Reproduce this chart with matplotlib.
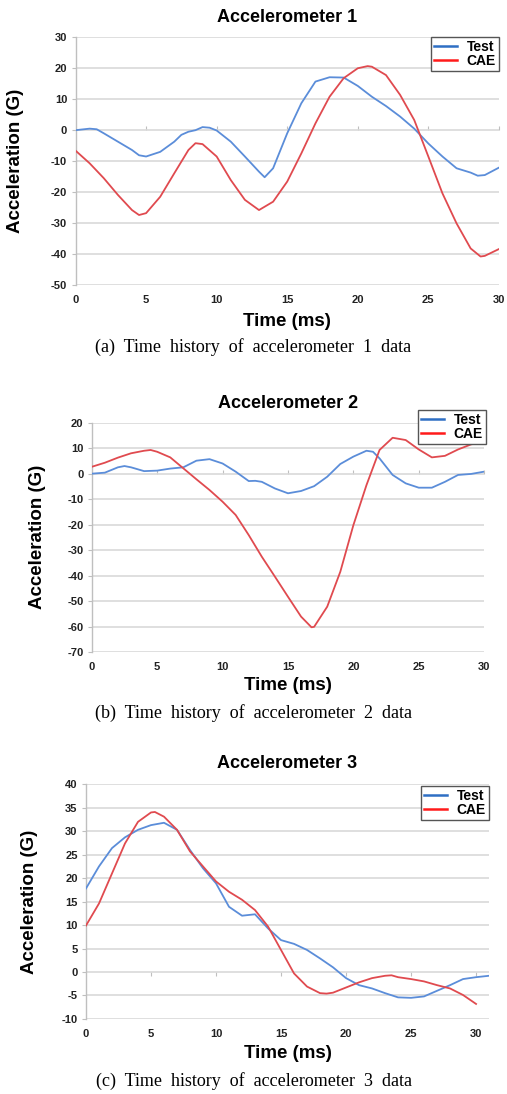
import matplotlib
matplotlib.use("Agg")
import matplotlib.pyplot as plt
import numpy as np
from matplotlib.lines import Line2D

plt.rcParams['font.family'] = ['Liberation Sans', 'DejaVu Sans']
plt.rcParams['axes.unicode_minus'] = False

# accelerometer 1
t1_test = [0, 1, 1.5, 2, 3, 4, 4.5, 5, 6, 7, 7.5, 8, 8.5, 9, 9.5, 10, 11, 12, 13, 13.4, 14, 15, 16, 17, 18, 19, 20, 21, 22, 23, 24, 25, 26, 27, 28, 28.5, 29, 30]
a1_test = [0, 0.5, 0.3, -1, -3.7, -6.4, -8.1, -8.5, -7, -3.7, -1.5, -0.5, 0, 1, 0.8, -0.1, -3.7, -8.5, -13.4, -15.2, -12.3, -1, 8.7, 15.7, 17.1, 17, 14.3, 10.8, 7.8, 4.4, 0.5, -4.3, -8.5, -12.3, -13.7, -14.7, -14.5, -12.1]
t1_cae = [0, 1, 2, 3, 4, 4.5, 5, 6, 7, 8, 8.5, 9, 10, 11, 12, 13, 14, 15, 16, 17, 18, 19, 20, 20.7, 21, 22, 23, 24, 25, 26, 27, 28, 28.7, 29, 30]
a1_cae = [-6.6, -10.7, -15.5, -20.9, -25.8, -27.4, -26.8, -21.5, -13.9, -6.4, -4.2, -4.5, -8.5, -16.1, -22.5, -25.8, -23.1, -16.6, -7.5, 2.2, 10.8, 16.8, 20.0, 20.7, 20.5, 17.8, 11.4, 3.3, -8.5, -20.4, -30.1, -38.2, -40.8, -40.6, -38.4]

# accelerometer 2
t2_test = [0, 1, 2, 2.5, 3, 4, 5, 6, 7, 8, 9, 10, 11, 12, 12.5, 13, 14, 15, 16, 17, 18, 19, 20, 21, 21.5, 22, 23, 24, 25, 26, 27, 28, 29, 30]
a2_test = [0, 0.4, 2.5, 3, 2.5, 1, 1.2, 2, 2.5, 5.1, 5.7, 4, 0.8, -2.9, -2.8, -3.2, -5.8, -7.7, -6.8, -4.9, -1.2, 3.8, 6.7, 9, 8.6, 6, -0.5, -3.8, -5.5, -5.5, -3.2, -0.5, -0.1, 0.8]
t2_cae = [0, 1, 2, 3, 4, 4.5, 5, 6, 7, 8, 9, 10, 11, 12, 13, 14, 15, 16, 16.8, 17, 18, 19, 20, 21, 22, 23, 24, 25, 26, 27, 28, 29, 30]
a2_cae = [2.7, 4.3, 6.3, 8, 9, 9.3, 8.6, 6.4, 2.1, -2.2, -6.4, -11, -16.2, -24.1, -32.6, -40.4, -48.3, -56.1, -60.3, -60.1, -52.2, -38.5, -20.2, -4.5, 9.3, 14.1, 13.2, 9.5, 6.4, 7, 9.5, 11.5, 12.5]

# accelerometer 3
t3_test = list(range(0, 32))
a3_test = [17.8, 22.5, 26.4, 28.7, 30.3, 31.3, 31.8, 30.3, 26, 22.1, 18.9, 13.9, 12, 12.3, 9.3, 6.8, 6, 4.7, 2.9, 1, -1.3, -2.8, -3.5, -4.5, -5.4, -5.5, -5.2, -4, -2.8, -1.5, -1.1, -0.8]
t3_cae = [0, 1, 2, 3, 4, 5, 5.3, 6, 7, 8, 9, 10, 11, 12, 13, 14, 15, 16, 17, 18, 18.5, 19, 20, 21, 22, 23, 23.5, 24, 25, 26, 27, 28, 29, 30]
a3_cae = [9.9, 14.6, 21, 27.4, 32, 34, 34.1, 33.1, 30.3, 25.7, 22.5, 19.3, 17.1, 15.4, 13.2, 9.7, 4.7, -0.3, -3.1, -4.5, -4.6, -4.4, -3.3, -2.2, -1.3, -0.8, -0.7, -1.1, -1.5, -2, -2.8, -3.5, -4.9, -6.8]

titles = ['Accelerometer 1', 'Accelerometer 2', 'Accelerometer 3']
captions = ['(a)  Time  history  of  accelerometer  1  data',
            '(b)  Time  history  of  accelerometer  2  data',
            '(c)  Time  history  of  accelerometer  3  data']

blue = '#5b8dd9'
red = '#e04a4f'
grid = '#d9d9d9'

fig = plt.figure(figsize=(5.07, 10.94), dpi=100)

panels = [
    dict(rect=[0.149, 0.7395, 0.835, 0.2264], ylim=(-50, 30), ystep=10, xlim=(0, 30),
         data=(t1_test, a1_test, t1_cae, a1_cae), title_y=18, cap_y=347, xl_y=321, yl_x=16,
         leg=(499, 37)),
    dict(rect=[0.181, 0.404, 0.774, 0.2096], ylim=(-70, 20), ystep=10, xlim=(0, 30),
         data=(t2_test, a2_test, t2_cae, a2_cae), title_y=403, cap_y=713, xl_y=685, yl_x=38,
         leg=(486, 410)),
    dict(rect=[0.1696, 0.0686, 0.795, 0.2145], ylim=(-10, 40), ystep=5, xlim=(0, 31),
         data=(t3_test, a3_test, t3_cae, a3_cae), title_y=764, cap_y=1081, xl_y=1053, yl_x=30,
         leg=(489, 786)),
]

W, H = 507, 1094
for i, p in enumerate(panels):
    ax = fig.add_axes(p['rect'])
    tt, at, tc, ac = p['data']
    ax.plot(tt, at, color=blue, lw=1.3, solid_joinstyle='round', zorder=3)
    ax.plot(tc, ac, color=red, lw=1.3, solid_joinstyle='round', zorder=3)
    ymin, ymax = p['ylim']
    ax.set_ylim(ymin, ymax)
    ax.set_xlim(*p['xlim'])
    ax.set_yticks(np.arange(ymin, ymax + 1, p['ystep']))
    ax.set_xticks(np.arange(0, 31, 5))
    ax.grid(axis='y', color=grid, lw=1.2)
    ax.set_axisbelow(True)
    for s in ['top', 'right', 'bottom']:
        ax.spines[s].set_visible(False)
    ax.spines['left'].set_color('#bfbfbf')
    ax.spines['left'].set_linewidth(1.0)
    ax.tick_params(axis='y', length=3, color='#bfbfbf', labelsize=8, pad=3)
    ax.tick_params(axis='x', length=0, labelsize=8, pad=7)
    for lab in ax.get_xticklabels() + ax.get_yticklabels():
        lab.set_fontweight('bold')
        lab.set_color('#222222')
    # category axis crossing at zero, like the spreadsheet
    loc0 = (0 - ymin) / (ymax - ymin)
    sec = ax.secondary_xaxis(loc0)
    sec.set_xticks(np.arange(5, 31, 5))
    sec.tick_params(axis='x', length=3, color='#bfbfbf', labelbottom=False, labeltop=False,
                    direction='out')
    sec.spines['bottom'].set_visible(False)
    sec.spines['top'].set_visible(False)

    pos = ax.get_position()
    fig.text(pos.x0 + pos.width / 2, 1 - p['title_y'] / H,
             titles[i], ha='center', va='center', fontsize=13, fontweight='bold')
    fig.text(pos.x0 + pos.width / 2, 1 - p['xl_y'] / H,
             'Time (ms)', ha='center', va='center', fontsize=13.5, fontweight='bold')
    fig.text(p['yl_x'] / W, pos.y0 + pos.height / 2,
             'Acceleration (G)', ha='center', va='center', rotation=90,
             fontsize=13.5, fontweight='bold')
    fig.text(0.5, 1 - p['cap_y'] / H, captions[i], ha='center', va='center',
             fontsize=13, family=['Liberation Serif', 'DejaVu Serif'])

    lx, ly = p['leg']
    handles = [Line2D([], [], color='#2e6fc4', lw=1.8), Line2D([], [], color='#ff1a1a', lw=1.8)]
    leg = fig.legend(handles, ['Test', 'CAE'], loc='upper right',
                     bbox_to_anchor=(lx / W, 1 - ly / H), bbox_transform=fig.transFigure,
                     fancybox=False, framealpha=1, edgecolor='#555555', borderpad=0.22,
                     handlelength=1.65, handletextpad=0.7, labelspacing=0.02,
                     prop=dict(size=10, weight='bold'), borderaxespad=0)
    leg.get_frame().set_linewidth(1.0)

fig.savefig('out.png', dpi=100)
